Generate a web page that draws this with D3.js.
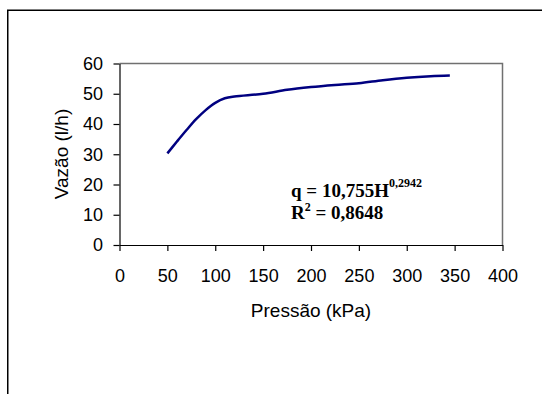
<!DOCTYPE html>
<html>
<head>
<meta charset="utf-8">
<script src="https://cdn.jsdelivr.net/npm/d3@7"></script>
<style>
  body { margin: 0; background: #fff; }
  svg { display: block; }
</style>
</head>
<body>
<div id="chart"></div>
<script>
// Pressure (kPa) vs flow (l/h)
const pressure = [50, 60, 70, 80, 90, 100, 110, 120, 150, 175, 200, 225, 250, 275, 300, 325, 345];
const flow = [30.3, 34.2, 38.0, 41.6, 44.6, 47.0, 48.5, 49.1, 50.0, 51.3, 52.2, 52.9, 53.5, 54.5, 55.3, 55.8, 56.0];
const xTicks = [0, 50, 100, 150, 200, 250, 300, 350, 400];
const yTicks = [0, 10, 20, 30, 40, 50, 60];

const width = 542;
const height = 394;

const svg = d3.select('#chart').append('svg')
    .attr('width', width)
    .attr('height', height);

// outer chart border (only top and left visible)
svg.append('path')
    .attr('d', 'M542,10.25 H7.75 V394')
    .attr('fill', 'none')
    .attr('stroke', '#000')
    .attr('stroke-width', 1.5);

const xScale = d3.scaleLinear()
    .domain([0, 400])
    .range([119.5, 502.5]);

const yScale = d3.scaleLinear()
    .domain([0, 60])
    .range([245, 63.5]);

// plot area frame (top + right)
svg.append('path')
    .attr('d', `M${xScale(0)},${yScale(60)} H${xScale(400)} V${yScale(0)}`)
    .attr('fill', 'none')
    .attr('stroke', '#707070')
    .attr('stroke-width', 1.5);

const font = 'Arial, "Liberation Sans", sans-serif';

// y axis
const yAxis = svg.append('g')
    .attr('transform', `translate(${xScale(0)},0)`)
    .call(d3.axisLeft(yScale).tickValues(yTicks).tickSize(6).tickPadding(10.5).tickSizeOuter(0));

// x axis
const xAxis = svg.append('g')
    .attr('transform', `translate(0,${yScale(0)})`)
    .call(d3.axisBottom(xScale).tickValues(xTicks).tickSize(6).tickPadding(18).tickSizeOuter(0));

[xAxis, yAxis].forEach(g => {
    g.select('.domain').attr('stroke', '#000').attr('stroke-width', 1.2);
    g.selectAll('.tick line').attr('stroke', '#000').attr('stroke-width', 1.2);
    g.selectAll('.tick text')
        .attr('fill', '#000')
        .style('font-family', font)
        .style('font-size', '18px');
});

// axis titles
svg.append('text')
    .attr('x', 311)
    .attr('y', 317)
    .attr('text-anchor', 'middle')
    .style('font-family', font)
    .style('font-size', '19px')
    .text('Pressão (kPa)');

svg.append('text')
    .attr('transform', 'translate(68,154) rotate(-90)')
    .attr('text-anchor', 'middle')
    .style('font-family', font)
    .style('font-size', '19px')
    .text('Vazão (l/h)');

// the curve
const line = d3.line()
    .x(d => xScale(d[0]))
    .y(d => yScale(d[1]))
    .curve(d3.curveCatmullRom);

svg.append('path')
    .datum(d3.zip(pressure, flow))
    .attr('d', line)
    .attr('fill', 'none')
    .attr('stroke', '#000080')
    .attr('stroke-width', 2.5);

// regression equation
const serif = '"Times New Roman", "Liberation Serif", serif';
const eq1 = svg.append('text')
    .attr('x', 291)
    .attr('y', 197)
    .style('font-family', serif)
    .style('font-weight', 'bold')
    .style('font-size', '19px');
eq1.append('tspan').text('q = 10,755H');
eq1.append('tspan').attr('dy', -10).style('font-size', '12px').text('0,2942');

const eq2 = svg.append('text')
    .attr('x', 291)
    .attr('y', 218.5)
    .style('font-family', serif)
    .style('font-weight', 'bold')
    .style('font-size', '19px');
eq2.append('tspan').text('R');
eq2.append('tspan').attr('dy', -8).style('font-size', '12px').text('2');
eq2.append('tspan').attr('dy', 8).text(' = 0,8648');
</script>
</body>
</html>
